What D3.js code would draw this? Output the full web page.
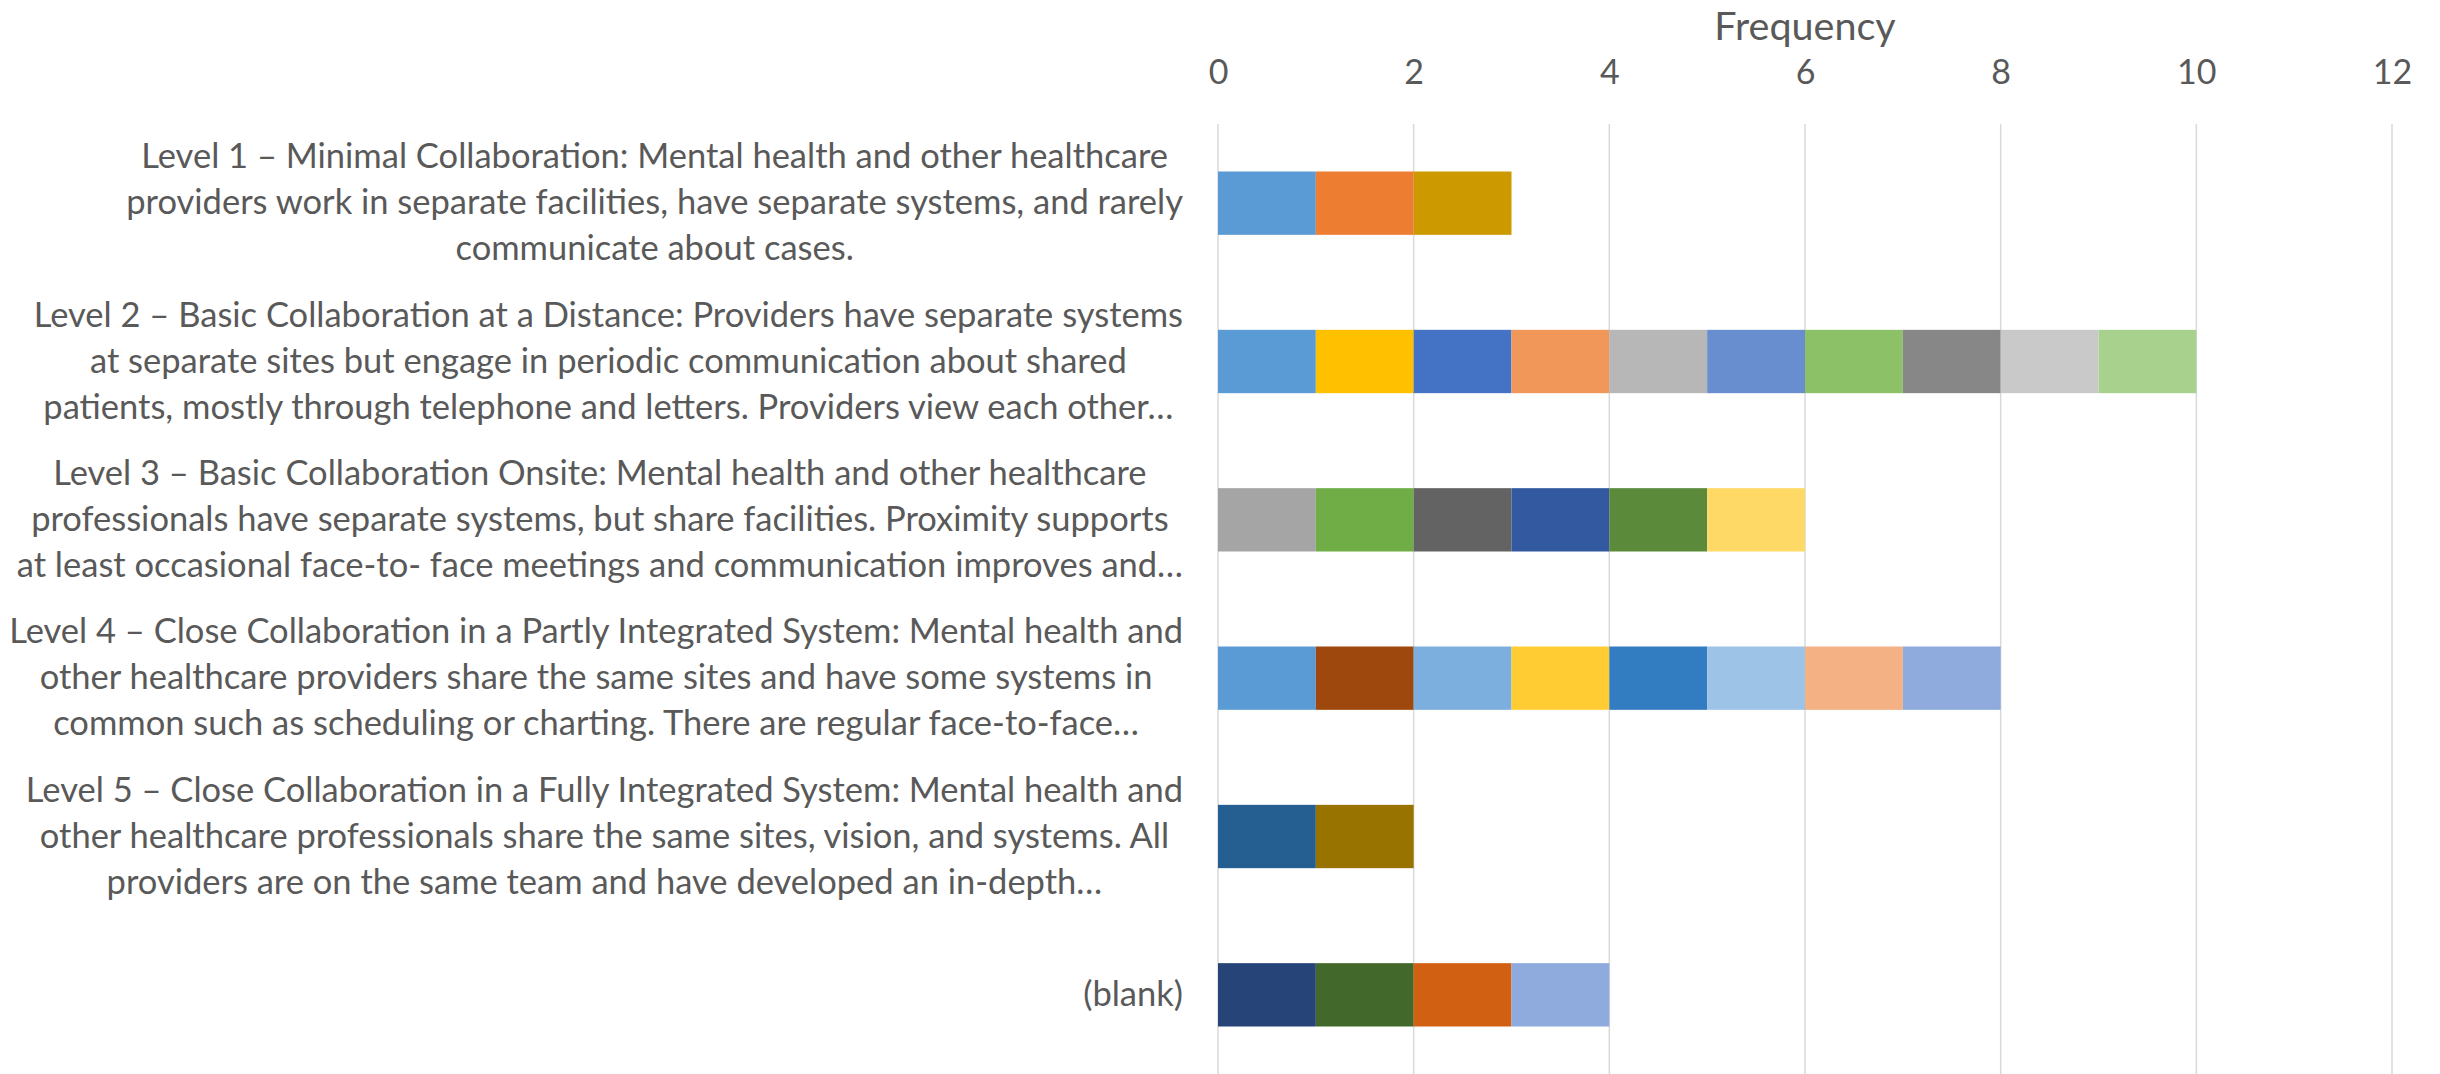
<!DOCTYPE html>
<html>
<head>
<meta charset="utf-8">
<script src="https://cdn.jsdelivr.net/npm/d3@7"></script>
<style>
  html, body { margin: 0; padding: 0; background: #ffffff; }
  svg { display: block; }
</style>
</head>
<body>
<svg id="chart" width="2440" height="1074"></svg>
<script>
// ---- data ----
const categoryLines = [
  ["Level 1 – Minimal Collaboration: Mental health and other healthcare",
   "providers work in separate facilities, have separate systems, and rarely",
   "communicate about cases."],
  ["Level 2 – Basic Collaboration at a Distance: Providers have separate systems",
   "at separate sites but engage in periodic communication about shared",
   "patients, mostly through telephone and letters. Providers view each other…"],
  ["Level 3 – Basic Collaboration Onsite: Mental health and other healthcare",
   "professionals have separate systems, but share facilities. Proximity supports",
   "at least occasional face-to- face meetings and communication improves and…"],
  ["Level 4 – Close Collaboration in a Partly Integrated System: Mental health and",
   "other healthcare providers share the same sites and have some systems in",
   "common such as scheduling or charting. There are regular face-to-face…"],
  ["Level 5 – Close Collaboration in a Fully Integrated System: Mental health and",
   "other healthcare professionals share the same sites, vision, and systems. All",
   "providers are on the same team and have developed an in-depth…"],
  ["(blank)"]
];
const categories = categoryLines.map(l => l.join(" "));
const segmentValues = [
  [1, 1, 1],
  [1, 1, 1, 1, 1, 1, 1, 1, 1, 1],
  [1, 1, 1, 1, 1, 1],
  [1, 1, 1, 1, 1, 1, 1, 1],
  [1, 1],
  [1, 1, 1, 1]
];
const xTicks = [0, 2, 4, 6, 8, 10, 12];
const axisTitle = "Frequency";

// ---- styles ----
const segmentColors = [
  ["#5B9BD5", "#ED7D31", "#CC9900"],
  ["#5B9BD5", "#FFC000", "#4472C4", "#F1975A", "#B7B7B7", "#698ED0", "#8CC168", "#878787", "#C9C9C9", "#A9D18E"],
  ["#A5A5A5", "#70AD47", "#636363", "#335AA1", "#5A8A3A", "#FFD966"],
  ["#5B9BD5", "#9E480E", "#7CAFDD", "#FFCD33", "#327DC2", "#9DC3E6", "#F4B183", "#8FAADC"],
  ["#255E91", "#997300"],
  ["#264478", "#43682B", "#D26012", "#8FAADC"]
];
const FONT = "Lato, 'Open Sans', sans-serif";
const textColor = "#595959";

const svg = d3.select("#chart");
const plot = { left: 1218, right: 2392, top: 124, bottom: 1074 };

const x = d3.scaleLinear().domain([0, 12]).range([plot.left, plot.right]);
const y = d3.scaleBand().domain(categories).range([plot.top, plot.bottom])
  .paddingInner(0.6).paddingOuter(0.3);

// gridlines
svg.append("g").selectAll("line").data(xTicks).join("line")
  .attr("x1", d => x(d)).attr("x2", d => x(d))
  .attr("y1", plot.top).attr("y2", plot.bottom)
  .attr("stroke", "#D9D9D9").attr("stroke-width", 1.5);

// top axis labels
const axis = d3.axisTop(x).tickValues(xTicks).tickSize(0).tickPadding(0);
const gAxis = svg.append("g").attr("transform", `translate(0, 84)`).call(axis);
gAxis.select(".domain").remove();
gAxis.selectAll("text")
  .attr("font-family", FONT).attr("font-size", 34).attr("fill", textColor)
  .attr("dy", 0);

// axis title
svg.append("text")
  .attr("x", (plot.left + plot.right) / 2).attr("y", 39.5)
  .attr("text-anchor", "middle")
  .attr("font-family", FONT).attr("font-size", 39.5).attr("fill", textColor)
  .text(axisTitle);

// stacked segments
const rows = svg.append("g");
segmentValues.forEach((vals, i) => {
  const cum = d3.cumsum(vals);
  const segs = vals.map((v, j) => ({ x0: cum[j] - v, x1: cum[j], color: segmentColors[i][j] }));
  rows.append("g").selectAll("rect").data(segs).join("rect")
    .attr("x", d => x(d.x0))
    .attr("width", d => x(d.x1) - x(d.x0))
    .attr("y", y(categories[i]))
    .attr("height", y.bandwidth())
    .attr("fill", d => d.color);
});

// category labels (block right-aligned, lines centered in block)
const labelRight = 1183;
const lineGap = 46;
const gLabels = svg.append("g");
categoryLines.forEach((lines, i) => {
  const cy = y(categories[i]) + y.bandwidth() / 2;
  const g = gLabels.append("g");
  const texts = g.selectAll("text").data(lines).join("text")
    .attr("font-family", FONT).attr("font-size", 34.5).attr("fill", textColor)
    .attr("text-anchor", "middle")
    .attr("y", (d, k) => cy + (k - (lines.length - 1) / 2) * lineGap + 11)
    .text(d => d);
  let maxW = 0;
  texts.each(function () { maxW = Math.max(maxW, this.getComputedTextLength()); });
  texts.attr("x", labelRight - maxW / 2);
});
</script>
</body>
</html>
